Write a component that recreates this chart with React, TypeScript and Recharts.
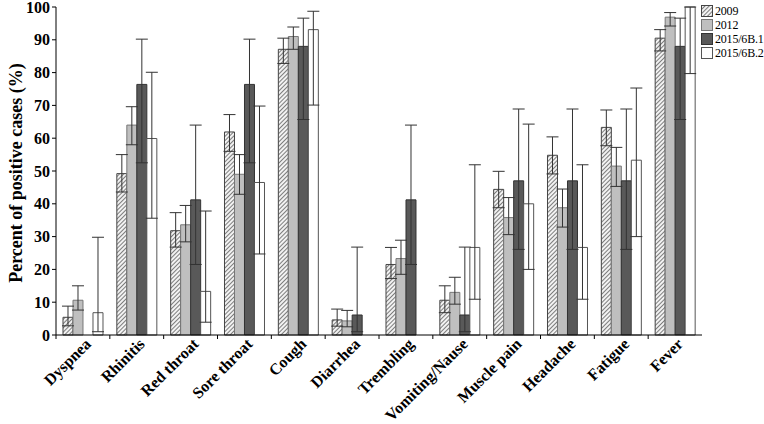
import { BarChart, Bar, XAxis, YAxis, ErrorBar, Label } from "recharts";

const categories = [
  "Dyspnea",
  "Rhinitis",
  "Red throat",
  "Sore throat",
  "Cough",
  "Diarrhea",
  "Trembling",
  "Vomiting/Nause",
  "Muscle pain",
  "Headache",
  "Fatigue",
  "Fever",
];

const yTicks = [0, 10, 20, 30, 40, 50, 60, 70, 80, 90, 100];

// values, error bars as [minus, plus]
const v2009 = [5.4, 49.2, 31.8, 61.9, 87.1, 4.6, 21.5, 10.6, 44.4, 54.8, 63.3, 90.5];
const e2009 = [
  [2.6, 3.4], [5.6, 5.8], [5.0, 5.5], [5.9, 5.3], [4.3, 3.4], [1.9, 3.3],
  [4.3, 5.2], [3.8, 4.4], [5.6, 5.5], [5.7, 5.6], [5.6, 5.3], [3.9, 2.6],
];

const v2012 = [10.6, 64, 33.6, 49, 91, 4.3, 23.3, 13, 35.8, 38.8, 51.5, 96.9];
const e2012 = [
  [3.0, 4.4], [6.0, 5.6], [5.2, 5.9], [6.1, 6.0], [3.9, 2.9], [1.8, 3.2],
  [4.8, 5.6], [3.6, 4.6], [5.2, 6.1], [5.9, 5.7], [6.2, 5.7], [2.7, 1.4],
];

const v2015b1 = [0, 76.4, 41.2, 76.4, 88, 6.1, 41.2, 6.1, 47, 47, 47, 88];
const e2015b1 = [
  [0, 18.4], [23.9, 13.8], [19.7, 22.8], [23.9, 13.8], [22.3, 8.6], [5.1, 20.7],
  [19.7, 22.8], [5.1, 20.7], [20.9, 21.9], [20.9, 21.9], [20.9, 21.9], [22.3, 8.6],
];

const v2015b2 = [6.8, 59.9, 13.3, 46.5, 93.1, 0, 0, 26.7, 40, 26.7, 53.3, 100];
const e2015b2 = [
  [5.8, 23], [24.3, 20.2], [9.4, 24.5], [21.8, 23.3], [23, 5.6], [0, 20.5],
  [0, 20.5], [15.8, 25.2], [20, 24.3], [15.8, 25.2], [23.3, 22], [20.3, 0],
];

const series = [
  { key: "s2009", name: "2009", fill: "url(#hatch2009)", stroke: "#444" },
  { key: "s2012", name: "2012", fill: "#bfbfbf", stroke: "#777" },
  { key: "s2015b1", name: "2015/6B.1", fill: "#595959", stroke: "#333" },
  { key: "s2015b2", name: "2015/6B.2", fill: "#ffffff", stroke: "#555" },
];

const data = categories.map((name, i) => ({
  name,
  s2009: v2009[i],
  s2009e: e2009[i],
  s2012: v2012[i],
  s2012e: e2012[i],
  s2015b1: v2015b1[i],
  s2015b1e: e2015b1[i],
  s2015b2: v2015b2[i],
  s2015b2e: e2015b2[i],
}));

const W = 764;
const H = 424;
const LEFT = 56;
const RIGHT = 62;
const step = (W - LEFT - RIGHT) / categories.length;
const serif = '"Liberation Serif", "Times New Roman", serif';

const CategoryTick = (props: any) => {
  const { x, y, payload } = props;
  const tx = x + 9;
  const ty = y + 2;
  return (
    <g>
      <line x1={x - step / 2} y1={y - 8} x2={x - step / 2} y2={y - 4} stroke="#000" />
      <text
        x={tx}
        y={ty}
        textAnchor="end"
        transform={`rotate(-45, ${tx}, ${ty})`}
        fontFamily={serif}
        fontWeight="bold"
        fontSize={16}
        fill="#000"
      >
        {payload.value}
      </text>
    </g>
  );
};

const YTitle = (props: any) => {
  const { viewBox } = props;
  const cx = 16;
  const cy = viewBox.y + viewBox.height / 2 + 2;
  return (
    <text
      x={cx}
      y={cy}
      transform={`rotate(-90, ${cx}, ${cy})`}
      textAnchor="middle"
      dominantBaseline="central"
      fontFamily={serif}
      fontWeight="bold"
      fontSize={18}
      fill="#000"
    >
      Percent of positive cases (%)
    </text>
  );
};

const LegendBox = () => (
  <div
    style={{
      position: "absolute",
      left: 701,
      top: 4,
      fontFamily: serif,
      fontSize: 12,
      lineHeight: "14px",
      color: "#000",
      whiteSpace: "nowrap",
    }}
  >
    {series.map((s) => (
      <div key={s.key} style={{ display: "flex", alignItems: "center", height: 14 }}>
        <svg width={14} height={12} style={{ marginRight: 0 }}>
          <rect x={0.5} y={0.5} width={11} height={11} fill={s.fill} stroke={s.stroke} />
        </svg>
        <span style={{ letterSpacing: -0.2 }}>{s.name}</span>
      </div>
    ))}
  </div>
);

export default function App() {
  return (
    <div style={{ position: "absolute", left: 0, top: 0, width: W, height: H, background: "#fff" }}>
      <svg width={0} height={0} style={{ position: "absolute" }}>
        <defs>
          <pattern
            id="hatch2009"
            width={3}
            height={3}
            patternUnits="userSpaceOnUse"
            patternTransform="rotate(45)"
          >
            <rect width={3} height={3} fill="#f2f2f2" />
            <line x1={0} y1={0} x2={0} y2={3} stroke="#4a4a4a" strokeWidth={1.4} />
          </pattern>
        </defs>
      </svg>
      <BarChart
        width={W}
        height={H}
        data={data}
        margin={{ top: 7, right: RIGHT, bottom: 0, left: 0 }}
        barCategoryGap="13%"
        barGap={0}
      >
        <XAxis
          dataKey="name"
          height={89}
          interval={0}
          stroke="#000"
          tickLine={false}
          tick={<CategoryTick />}
        />
        <YAxis
          width={LEFT}
          domain={[0, 100]}
          ticks={yTicks}
          interval={0}
          stroke="#000"
          tickSize={4}
          tick={{ fontFamily: serif, fontWeight: "bold", fontSize: 16, fill: "#000" }}
        >
          <Label content={<YTitle />} />
        </YAxis>
        {series.map((s) => (
          <Bar
            key={s.key}
            dataKey={s.key}
            name={s.name}
            fill={s.fill}
            stroke={s.stroke}
            strokeWidth={1}
            isAnimationActive={false}
          >
            <ErrorBar
              dataKey={`${s.key}e`}
              width={6}
              stroke="#333"
              strokeWidth={1}
              direction="y"
            />
          </Bar>
        ))}
      </BarChart>
      <LegendBox />
    </div>
  );
}
